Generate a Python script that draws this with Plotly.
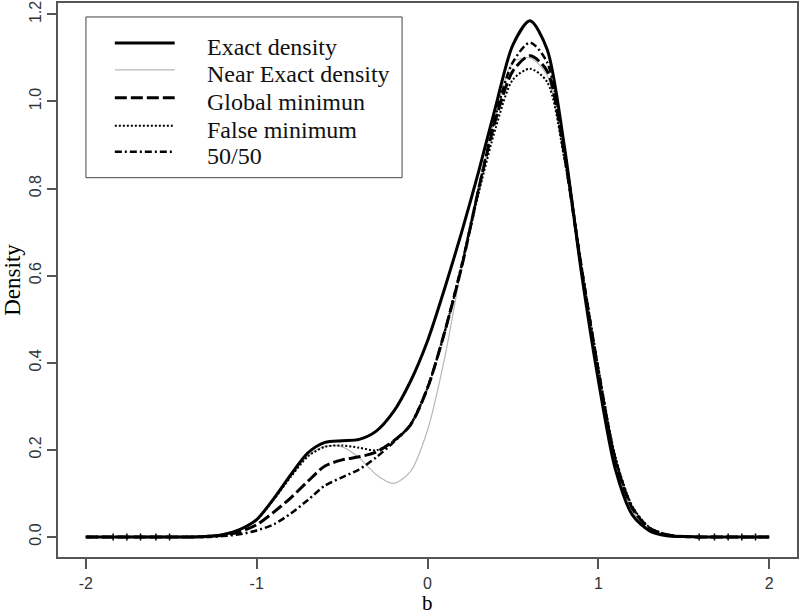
import plotly.graph_objects as go

# grid of b values
b = [-2.0, -1.9, -1.8, -1.7, -1.6, -1.5, -1.4, -1.3, -1.2, -1.1,
     -1.0, -0.9, -0.8, -0.7, -0.6, -0.5, -0.4, -0.3, -0.2, -0.1,
     0.0, 0.1, 0.2, 0.3, 0.4, 0.5, 0.6, 0.7, 0.8, 0.9,
     1.0, 1.1, 1.2, 1.3, 1.4, 1.5, 1.6, 1.7, 1.8, 1.9, 2.0]

exact = [0, 0, 0, 0, 0, 0, 0, 0.001, 0.005, 0.017,
         0.04, 0.088, 0.143, 0.193, 0.217, 0.221, 0.224, 0.243, 0.287, 0.357,
         0.45, 0.57, 0.70, 0.84, 0.99, 1.13, 1.185, 1.12, 0.90, 0.61,
         0.36, 0.155, 0.05, 0.014, 0.003, 0.001, 0, 0, 0, 0, 0]

near_exact = [0, 0, 0, 0, 0, 0, 0, 0.001, 0.005, 0.017,
              0.04, 0.086, 0.139, 0.186, 0.208, 0.207, 0.182, 0.143, 0.123, 0.15,
              0.245, 0.41, 0.62, 0.80, 0.97, 1.09, 1.10, 1.06, 0.87, 0.61,
              0.38, 0.17, 0.06, 0.017, 0.004, 0.001, 0, 0, 0, 0, 0]

global_min = [0, 0, 0, 0, 0, 0, 0, 0.001, 0.004, 0.012,
              0.028, 0.057, 0.09, 0.128, 0.163, 0.177, 0.184, 0.195, 0.22, 0.257,
              0.342, 0.47, 0.62, 0.80, 0.96, 1.07, 1.105, 1.07, 0.88, 0.62,
              0.38, 0.175, 0.065, 0.02, 0.005, 0.001, 0, 0, 0, 0, 0]

false_min = [0, 0, 0, 0, 0, 0, 0, 0.001, 0.005, 0.017,
             0.04, 0.086, 0.138, 0.185, 0.207, 0.21, 0.205, 0.199, 0.22, 0.258,
             0.342, 0.47, 0.62, 0.79, 0.94, 1.05, 1.075, 1.045, 0.87, 0.625,
             0.39, 0.185, 0.07, 0.022, 0.006, 0.001, 0, 0, 0, 0, 0]

fifty = [0, 0, 0, 0, 0, 0, 0, 0, 0.002, 0.006,
         0.015, 0.029, 0.054, 0.085, 0.118, 0.137, 0.155, 0.183, 0.217, 0.258,
         0.342, 0.47, 0.625, 0.80, 0.97, 1.09, 1.135, 1.09, 0.89, 0.625,
         0.385, 0.18, 0.068, 0.02, 0.005, 0.001, 0, 0, 0, 0, 0]

# little tick marks visible along the zero line in the tails
tick_b = [-1.84, -1.76, -1.68, -1.59, -1.51, 1.59, 1.68, 1.76, 1.84, 1.92]
tick_y = [0, 0, 0, 0, 0, 0, 0, 0, 0, 0]

names = ["Exact density", "Near Exact density", "Global minimun", "False minimum", "50/50"]
series = [exact, near_exact, global_min, false_min, fifty]
styles = [
    dict(color="black", width=3),
    dict(color="#b8b8b8", width=1.2),
    dict(color="black", width=3, dash="12px,4px"),
    dict(color="black", width=2, dash="2px,2px"),
    dict(color="black", width=2.5, dash="7px,3px,2px,3px"),
]
draw_order = [1, 3, 4, 2, 0]

fig = go.Figure()
for i in draw_order:
    fig.add_trace(go.Scatter(x=b, y=series[i], mode="lines", name=names[i], showlegend=False,
                             line=dict(shape="spline", smoothing=0.8, **styles[i])))
fig.add_trace(go.Scatter(x=tick_b, y=tick_y, mode="markers", showlegend=False, hoverinfo="skip",
                         marker=dict(symbol="line-ns", size=5, line=dict(color="black", width=1.5))))

# legend drawn by hand, R style
fig.add_shape(type="rect", xref="paper", yref="paper",
              x0=0.0378, x1=0.4656, y0=0.6847, y1=0.9748,
              line=dict(color="#444", width=1), fillcolor="rgba(0,0,0,0)")
line_y = [0.9279, 0.8793, 0.8288, 0.7784, 0.7315]
text_y = [0.9207, 0.8721, 0.8216, 0.7712, 0.7243]
for i in range(5):
    fig.add_shape(type="line", xref="paper", yref="paper",
                  x0=0.0769, x1=0.1579, y0=line_y[i], y1=line_y[i], line=styles[i])
    fig.add_annotation(xref="paper", yref="paper", x=0.1984, y=text_y[i], text=names[i],
                       showarrow=False, xanchor="left", yanchor="middle",
                       font=dict(family="Liberation Serif", size=24, color="#111"))

# x axis title, placed like R's mtext under the tick labels
fig.add_annotation(xref="paper", yref="paper", x=0.5, y=-0.0829, text="b",
                   showarrow=False, xanchor="center", yanchor="middle",
                   font=dict(family="Liberation Serif", size=21, color="black"))

fig.update_layout(
    width=800, height=616,
    paper_bgcolor="white", plot_bgcolor="white",
    margin=dict(l=58, r=1, t=2, b=59),
    font=dict(family="Liberation Serif", color="black"),
    showlegend=False,
)
fig.update_xaxes(range=[-2.163, 2.163], tickvals=[-2, -1, 0, 1, 2],
                 ticktext=["-2", "-1", "0", "1", "2"],
                 showgrid=False, zeroline=False, showline=True, mirror=True,
                 linecolor="#555", linewidth=1.5, ticks="outside", ticklen=10,
                 tickcolor="#555", tickwidth=1.5, ticklabelstandoff=1,
                 tickfont=dict(family="Liberation Sans", size=16, color="#333"))
fig.update_yaxes(range=[-0.046, 1.226], tickvals=[0, 0.2, 0.4, 0.6, 0.8, 1.0, 1.2],
                 ticktext=["0.0", "0.2", "0.4", "0.6", "0.8", "1.0", "1.2"],
                 showgrid=False, zeroline=False, showline=True, mirror=True,
                 linecolor="#555", linewidth=1.5, ticks="outside", ticklen=9,
                 tickcolor="#555", tickwidth=1.5, tickangle=-90, ticklabelstandoff=0,
                 tickfont=dict(family="Liberation Sans", size=16, color="#333"),
                 title=dict(text="Density", font=dict(family="Liberation Serif", size=23), standoff=0))

fig.write_html("out.html", config={"displayModeBar": False},
               post_script="document.body.style.margin='0px';")
